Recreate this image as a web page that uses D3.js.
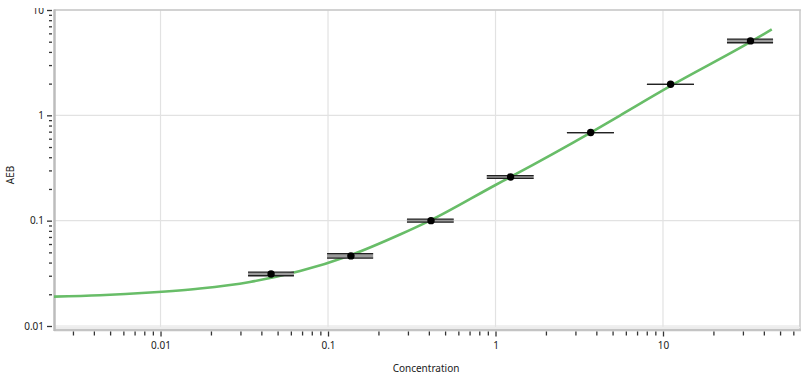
<!DOCTYPE html>
<html>
<head>
<meta charset="utf-8">
<script src="https://cdn.jsdelivr.net/npm/d3@7"></script>
<style>
  body { margin: 0; background: #fff; }
  text { font-family: "Noto Sans", sans-serif; fill: #222; }
</style>
</head>
<body>
<svg id="chart" width="812" height="382"></svg>
<script>
// measured points (concentration vs AEB)
const conc = [0.0457, 0.137, 0.412, 1.23, 3.70, 11.1, 33.3];
const aeb = [0.0312, 0.0463, 0.100, 0.260, 0.686, 1.97, 5.09];
// horizontal error bars (concentration range) drawn at two AEB levels
const concLo = [0.0333, 0.0987, 0.296, 0.887, 2.67, 8.02, 24.1];
const concHi = [0.0626, 0.186, 0.563, 1.69, 5.09, 15.3, 45.4];
const barAebLo = [0.0300, 0.0440, 0.0968, 0.252, 0.686, 1.97, 4.89];
const barAebHi = [0.0324, 0.0487, 0.1033, 0.268, 0.686, 1.97, 5.29];

// fitted curve
const fitConc = [0.00231, 0.00435, 0.00866, 0.0172, 0.0342, 0.0681, 0.135, 0.269, 0.406, 1, 1.23, 3.70, 5.53, 11.1, 33.3, 44.6];
const fitAeb = [0.0190, 0.0196, 0.0208, 0.0227, 0.0262, 0.0332, 0.0467, 0.0738, 0.100, 0.218, 0.260, 0.686, 0.996, 1.90, 4.97, 6.53];

const xTickVals = [0.01, 0.1, 1, 10];
const xTickLabels = ["0.01", "0.1", "1", "10"];
const yTickVals = [0.01, 0.1, 1, 10];
const yTickLabels = ["0.01", "0.1", "1", "10"];

const svg = d3.select("#chart");
const pLeft = 54, pRight = 800, pTop = 10, pBottom = 328;

const x = d3.scaleLog().domain([0.002312, 65.76]).range([pLeft, pRight]);
const y = d3.scaleLog().domain([0.00957, 10]).range([pBottom, pTop]);

// grid
svg.append("g")
  .selectAll("line")
  .data(xTickVals)
  .join("line")
  .attr("x1", d => x(d)).attr("x2", d => x(d))
  .attr("y1", pTop).attr("y2", pBottom)
  .attr("stroke", "#e2e2e2").attr("stroke-width", 1.2);

svg.append("g")
  .selectAll("line")
  .data(yTickVals)
  .join("line")
  .attr("x1", pLeft).attr("x2", pRight)
  .attr("y1", d => y(d)).attr("y2", d => y(d))
  .attr("stroke", "#e2e2e2").attr("stroke-width", 1.2);

// frame
svg.append("line").attr("x1", pLeft).attr("x2", pRight + 1).attr("y1", pTop).attr("y2", pTop)
  .attr("stroke", "#c8c8c8").attr("stroke-width", 1.5);
svg.append("line").attr("x1", pRight).attr("x2", pRight).attr("y1", pTop).attr("y2", pBottom + 3)
  .attr("stroke", "#c8c8c8").attr("stroke-width", 1.5);
svg.append("line").attr("x1", pLeft).attr("x2", pRight).attr("y1", pBottom - 0.5).attr("y2", pBottom - 0.5)
  .attr("stroke", "#ececec").attr("stroke-width", 1.5);
svg.append("line").attr("x1", pLeft).attr("x2", pRight + 1).attr("y1", pBottom + 2).attr("y2", pBottom + 2)
  .attr("stroke", "#c4c4c4").attr("stroke-width", 2.5);
svg.append("line").attr("x1", pLeft + 0.5).attr("x2", pLeft + 0.5).attr("y1", pTop - 0.5).attr("y2", pBottom + 3)
  .attr("stroke", "#bcbcbc").attr("stroke-width", 2.5);

// axes
const styleAxis = g => {
  g.select(".domain").remove();
  g.selectAll(".tick line").attr("stroke", "#333").attr("stroke-width", 1.3);
  g.selectAll("text").style("font-size", "10px");
};

// the top label is cut off in the original
svg.append("defs").append("clipPath").attr("id", "yclip")
  .append("rect").attr("x", -60).attr("y", 8).attr("width", 62).attr("height", 340);

const yMinor = y.ticks().filter(v => !yTickVals.includes(v));
svg.append("g")
  .attr("transform", `translate(${pLeft - 2},0)`)
  .call(d3.axisLeft(y).tickValues(yMinor).tickSize(3).tickFormat(""))
  .call(styleAxis);
svg.append("g")
  .attr("clip-path", "url(#yclip)")
  .attr("transform", `translate(${pLeft - 2},0)`)
  .call(d3.axisLeft(y).tickValues(yTickVals).tickSize(5).tickPadding(3)
    .tickFormat((d, i) => yTickLabels[i]))
  .call(styleAxis);

const xMinor = x.ticks().filter(v => !xTickVals.includes(v));
svg.append("g")
  .attr("transform", `translate(0,${pBottom + 3.5})`)
  .call(d3.axisBottom(x).tickValues(xMinor).tickSize(4).tickFormat(""))
  .call(styleAxis);
svg.append("g")
  .attr("transform", `translate(0,${pBottom + 3.5})`)
  .call(d3.axisBottom(x).tickValues(xTickVals).tickSize(5).tickPadding(5)
    .tickFormat((d, i) => xTickLabels[i]))
  .call(styleAxis);

// titles
svg.append("text")
  .attr("x", (pLeft + pRight) / 2 - 1).attr("y", 372)
  .attr("text-anchor", "middle")
  .style("font-size", "10px")
  .text("Concentration");
svg.append("text")
  .attr("transform", "translate(14,175) rotate(-90)")
  .attr("text-anchor", "middle")
  .style("font-size", "10px")
  .text("AEB");

// plot clip
svg.append("defs").append("clipPath").attr("id", "plotclip")
  .append("rect").attr("x", pLeft).attr("y", pTop).attr("width", pRight - pLeft).attr("height", pBottom - pTop);

const plot = svg.append("g").attr("clip-path", "url(#plotclip)");

// fitted curve
const fit = fitConc.map((c, i) => [c, fitAeb[i]]);
plot.append("path")
  .datum(fit)
  .attr("fill", "none")
  .attr("stroke", "#68bd68")
  .attr("stroke-width", 2.6)
  .attr("d", d3.line().x(d => x(d[0])).y(d => y(d[1])).curve(d3.curveMonotoneX));

// error bars: grey band between the two levels, dark edges
const pts = conc.map((c, i) => ({ c, a: aeb[i], lo: concLo[i], hi: concHi[i], bl: barAebLo[i], bh: barAebHi[i] }));
plot.append("g")
  .selectAll("rect")
  .data(pts)
  .join("rect")
  .attr("x", d => x(d.lo)).attr("width", d => x(d.hi) - x(d.lo))
  .attr("y", d => y(d.bh)).attr("height", d => y(d.bl) - y(d.bh))
  .attr("fill", "#9a9a9a");
["bl", "bh"].forEach(k => {
  plot.append("g")
    .selectAll("line")
    .data(pts)
    .join("line")
    .attr("x1", d => x(d.lo)).attr("x2", d => x(d.hi))
    .attr("y1", d => y(d[k])).attr("y2", d => y(d[k]))
    .attr("stroke", "#222").attr("stroke-width", 1.3);
});

// points
plot.append("g")
  .selectAll("circle")
  .data(pts)
  .join("circle")
  .attr("cx", d => x(d.c))
  .attr("cy", d => y(d.a))
  .attr("r", 3.7)
  .attr("fill", "#000");
</script>
</body>
</html>
